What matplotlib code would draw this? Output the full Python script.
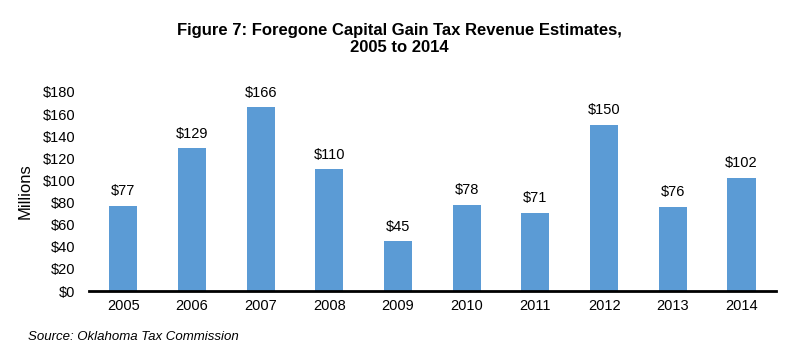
import numpy as np
import matplotlib
matplotlib.use("Agg")
import matplotlib.pyplot as plt

years = ["2005", "2006", "2007", "2008", "2009", "2010", "2011", "2012", "2013", "2014"]
revenue = [77, 129, 166, 110, 45, 78, 71, 150, 76, 102]
yticks = [0, 20, 40, 60, 80, 100, 120, 140, 160, 180]

plt.rcParams['font.family'] = ['Liberation Sans', 'DejaVu Sans']

fig = plt.figure(figsize=(7.9, 3.52), dpi=100)
ax = fig.add_axes([0.1127, 0.173, 0.8693, 0.566])

x = np.arange(len(years))
ax.bar(x, revenue, width=0.41, color='#5B9BD5')
for xi, v in zip(x, revenue):
    ax.text(xi, v + 7, '$%d' % v, ha='center', va='bottom', fontsize=10.5)

ax.set_xlim(-0.5, len(years) - 0.5)
ax.set_ylim(0, 180)
ax.set_yticks(yticks)
ax.set_yticklabels(['$%d' % t for t in yticks], fontsize=10.5)
ax.set_xticks(x)
ax.set_xticklabels(years, fontsize=10.5)
ax.tick_params(length=0, pad=6)
ax.tick_params(axis='y', pad=10)
for s in ['top', 'right', 'left']:
    ax.spines[s].set_visible(False)
ax.spines['bottom'].set_linewidth(2)
ax.set_ylabel('Millions', fontsize=12, labelpad=7)

fig.text(0.505, 0.89, 'Figure 7: Foregone Capital Gain Tax Revenue Estimates,\n2005 to 2014',
         ha='center', va='center', fontsize=12, fontweight='bold', linespacing=1.15)
fig.text(0.035, 0.033, 'Source: Oklahoma Tax Commission', fontsize=9.5, style='italic')

fig.savefig('out.png', dpi=100)
